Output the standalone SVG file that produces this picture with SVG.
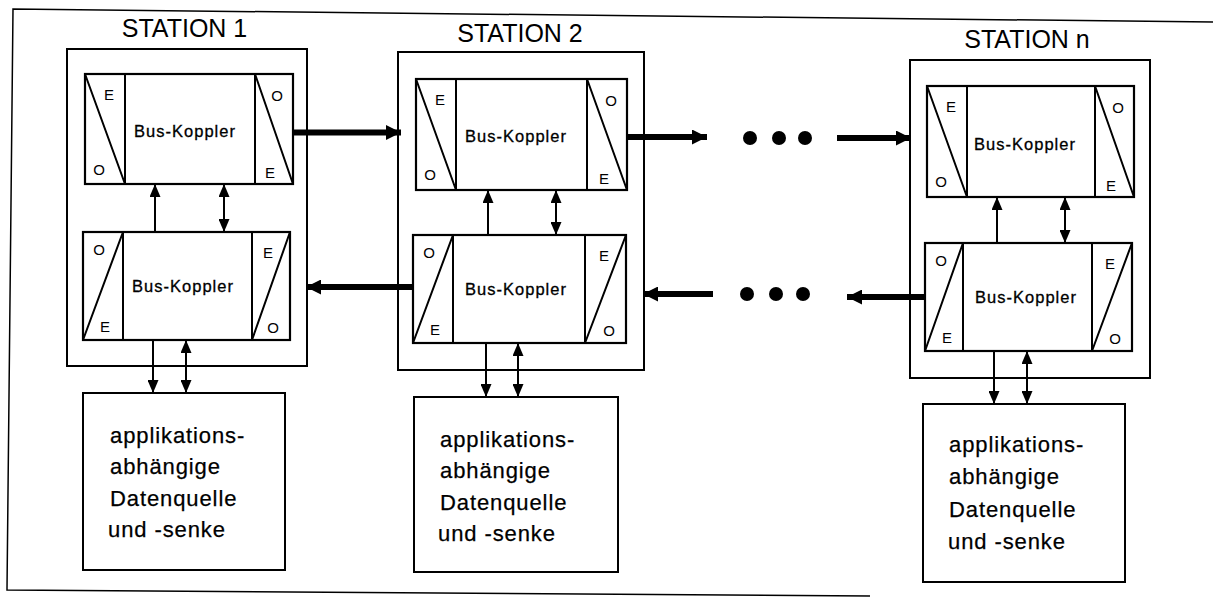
<svg xmlns="http://www.w3.org/2000/svg" width="1213" height="604" viewBox="0 0 1213 604">
<style>
  .frame{fill:none;stroke:#000;stroke-width:1.5}
  .box{fill:#fff;stroke:#000;stroke-width:2}
  .cpl{fill:#fff;stroke:#000;stroke-width:2.2}
  .ln{fill:none;stroke:#000;stroke-width:2}
  .thin{fill:none;stroke:#000;stroke-width:2}
  .thick{fill:none;stroke:#000;stroke-width:6}
  .title{font-family:"Liberation Sans",Arial,sans-serif;font-size:25px;text-anchor:middle;fill:#000}
  .bk{font-family:"Liberation Sans",Arial,sans-serif;font-size:16.5px;letter-spacing:1px;text-anchor:middle;fill:#000;stroke:#000;stroke-width:0.3}
  .eo{font-family:"Liberation Sans",Arial,sans-serif;font-size:15px;text-anchor:middle;fill:#000}
  .app{font-family:"Liberation Sans",Arial,sans-serif;font-size:22px;letter-spacing:0.9px;fill:#000;stroke:#000;stroke-width:0.25}
  .dot{fill:#000}
</style>
<defs>
  <marker id="ah" markerUnits="userSpaceOnUse" markerWidth="13" markerHeight="11" viewBox="0 0 13 11" refX="13" refY="5.5" orient="auto-start-reverse">
    <path d="M0,0 L13,5.5 L0,11 z" fill="#000"/>
  </marker>
  <marker id="ahT" markerUnits="userSpaceOnUse" markerWidth="15" markerHeight="15" viewBox="0 0 15 15" refX="15" refY="7.5" orient="auto-start-reverse">
    <path d="M0,0 L15,7.5 L0,15 z" fill="#000"/>
  </marker>
</defs>

<path id="outer-frame" class="frame" d="M1213,22 L13,9 L7,590 L870,596"/>

<!-- STATION 1 -->
<g id="station1">
  <text class="title" x="184.5" y="37">STATION 1</text>
  <rect class="box" x="67" y="49" width="240" height="317"/>
</g>
<g id="s1-coupler-top" transform="translate(85,74)">
  <rect class="cpl" x="0" y="0" width="208" height="110"/>
  <path class="ln" d="M40,0 V110 M170,0 V110 M0,0 L40,110 M170,0 L208,110"/>
  <text class="eo" x="24" y="26">E</text><text class="eo" x="14" y="101">O</text>
  <text class="eo" x="192" y="27">O</text><text class="eo" x="185" y="104">E</text>
  <text class="bk" x="100" y="63">Bus-Koppler</text>
</g>
<g id="s1-coupler-bottom" transform="translate(83,232)">
  <rect class="cpl" x="0" y="0" width="207" height="108"/>
  <path class="ln" d="M40,0 V108 M169,0 V108 M0,108 L40,0 M169,108 L207,0"/>
  <text class="eo" x="16" y="23">O</text><text class="eo" x="22" y="100">E</text>
  <text class="eo" x="185" y="26">E</text><text class="eo" x="190" y="101">O</text>
  <text class="bk" x="100" y="60">Bus-Koppler</text>
</g>
<g id="s1-app">
  <rect class="box" x="83" y="393" width="202" height="177"/>
  <text class="app" x="110" y="443">applikations-</text>
  <text class="app" x="110" y="474">abhängige</text>
  <text class="app" x="110" y="506">Datenquelle</text>
  <text class="app" x="108" y="537">und -senke</text>
</g>

<!-- STATION 2 -->
<g id="station2">
  <text class="title" x="520" y="42">STATION 2</text>
  <rect class="box" x="398" y="52" width="246" height="318"/>
</g>
<g id="s2-coupler-top" transform="translate(416,79)">
  <rect class="cpl" x="0" y="0" width="211" height="111"/>
  <path class="ln" d="M40,0 V111 M171,0 V111 M0,0 L40,111 M171,0 L211,111"/>
  <text class="eo" x="24" y="26">E</text><text class="eo" x="14" y="101">O</text>
  <text class="eo" x="195" y="27">O</text><text class="eo" x="188" y="105">E</text>
  <text class="bk" x="100" y="63">Bus-Koppler</text>
</g>
<g id="s2-coupler-bottom" transform="translate(413,235)">
  <rect class="cpl" x="0" y="0" width="213" height="108"/>
  <path class="ln" d="M40,0 V108 M172,0 V108 M0,108 L40,0 M172,108 L213,0"/>
  <text class="eo" x="16" y="23">O</text><text class="eo" x="22" y="100">E</text>
  <text class="eo" x="191" y="26">E</text><text class="eo" x="196" y="101">O</text>
  <text class="bk" x="103" y="60">Bus-Koppler</text>
</g>
<g id="s2-app">
  <rect class="box" x="414" y="397" width="204" height="175"/>
  <text class="app" x="440" y="447">applikations-</text>
  <text class="app" x="440" y="478">abhängige</text>
  <text class="app" x="440" y="510">Datenquelle</text>
  <text class="app" x="438" y="541">und -senke</text>
</g>

<!-- STATION n -->
<g id="stationn">
  <text class="title" x="1027" y="48">STATION n</text>
  <rect class="box" x="910" y="60" width="240" height="318"/>
</g>
<g id="sn-coupler-top" transform="translate(927,86)">
  <rect class="cpl" x="0" y="0" width="207" height="111"/>
  <path class="ln" d="M40,0 V111 M168,0 V111 M0,0 L40,111 M168,0 L207,111"/>
  <text class="eo" x="24" y="26">E</text><text class="eo" x="14" y="101">O</text>
  <text class="eo" x="191" y="27">O</text><text class="eo" x="184" y="105">E</text>
  <text class="bk" x="98" y="64">Bus-Koppler</text>
</g>
<g id="sn-coupler-bottom" transform="translate(925,243)">
  <rect class="cpl" x="0" y="0" width="207" height="108"/>
  <path class="ln" d="M38,0 V108 M167,0 V108 M0,108 L38,0 M167,108 L207,0"/>
  <text class="eo" x="16" y="23">O</text><text class="eo" x="22" y="100">E</text>
  <text class="eo" x="185" y="26">E</text><text class="eo" x="190" y="101">O</text>
  <text class="bk" x="101" y="60">Bus-Koppler</text>
</g>
<g id="sn-app">
  <rect class="box" x="923" y="404" width="202" height="178"/>
  <text class="app" x="949" y="452">applikations-</text>
  <text class="app" x="949" y="484">abhängige</text>
  <text class="app" x="949" y="517">Datenquelle</text>
  <text class="app" x="948" y="549">und -senke</text>
</g>

<!-- continuation dots -->
<g id="dots-top">
  <circle class="dot" cx="750" cy="138" r="7"/>
  <circle class="dot" cx="779" cy="138" r="7"/>
  <circle class="dot" cx="805" cy="138" r="7"/>
</g>
<g id="dots-bottom">
  <circle class="dot" cx="747" cy="294" r="7"/>
  <circle class="dot" cx="776" cy="294" r="7"/>
  <circle class="dot" cx="803" cy="294" r="7"/>
</g>

<!-- connectors -->
<g id="connectors">
  <line class="thin" x1="155" y1="232" x2="155" y2="184" marker-end="url(#ah)"/>
  <line class="thin" x1="224" y1="184" x2="224" y2="232" marker-start="url(#ah)" marker-end="url(#ah)"/>
  <line class="thin" x1="153" y1="340" x2="153" y2="393" marker-end="url(#ah)"/>
  <line class="thin" x1="186" y1="340" x2="186" y2="393" marker-start="url(#ah)" marker-end="url(#ah)"/>
  <line class="thin" x1="488" y1="235" x2="488" y2="190" marker-end="url(#ah)"/>
  <line class="thin" x1="556" y1="190" x2="556" y2="235" marker-start="url(#ah)" marker-end="url(#ah)"/>
  <line class="thin" x1="486" y1="343" x2="486" y2="397" marker-end="url(#ah)"/>
  <line class="thin" x1="518" y1="343" x2="518" y2="397" marker-start="url(#ah)" marker-end="url(#ah)"/>
  <line class="thin" x1="997" y1="243" x2="997" y2="197" marker-end="url(#ah)"/>
  <line class="thin" x1="1065" y1="197" x2="1065" y2="243" marker-start="url(#ah)" marker-end="url(#ah)"/>
  <line class="thin" x1="994" y1="351" x2="994" y2="404" marker-end="url(#ah)"/>
  <line class="thin" x1="1027" y1="351" x2="1027" y2="404" marker-start="url(#ah)" marker-end="url(#ah)"/>
  <line class="thick" x1="293" y1="132.5" x2="401" y2="132.5" marker-end="url(#ahT)"/>
  <line class="thick" x1="627" y1="137" x2="707" y2="137" marker-end="url(#ahT)"/>
  <line class="thick" x1="837" y1="138" x2="911" y2="138" marker-end="url(#ahT)"/>
  <line class="thick" x1="925" y1="297" x2="847" y2="297" marker-end="url(#ahT)"/>
  <line class="thick" x1="713" y1="294" x2="643" y2="294" marker-end="url(#ahT)"/>
  <line class="thick" x1="413" y1="287" x2="306" y2="287" marker-end="url(#ahT)"/>
</g>
</svg>
